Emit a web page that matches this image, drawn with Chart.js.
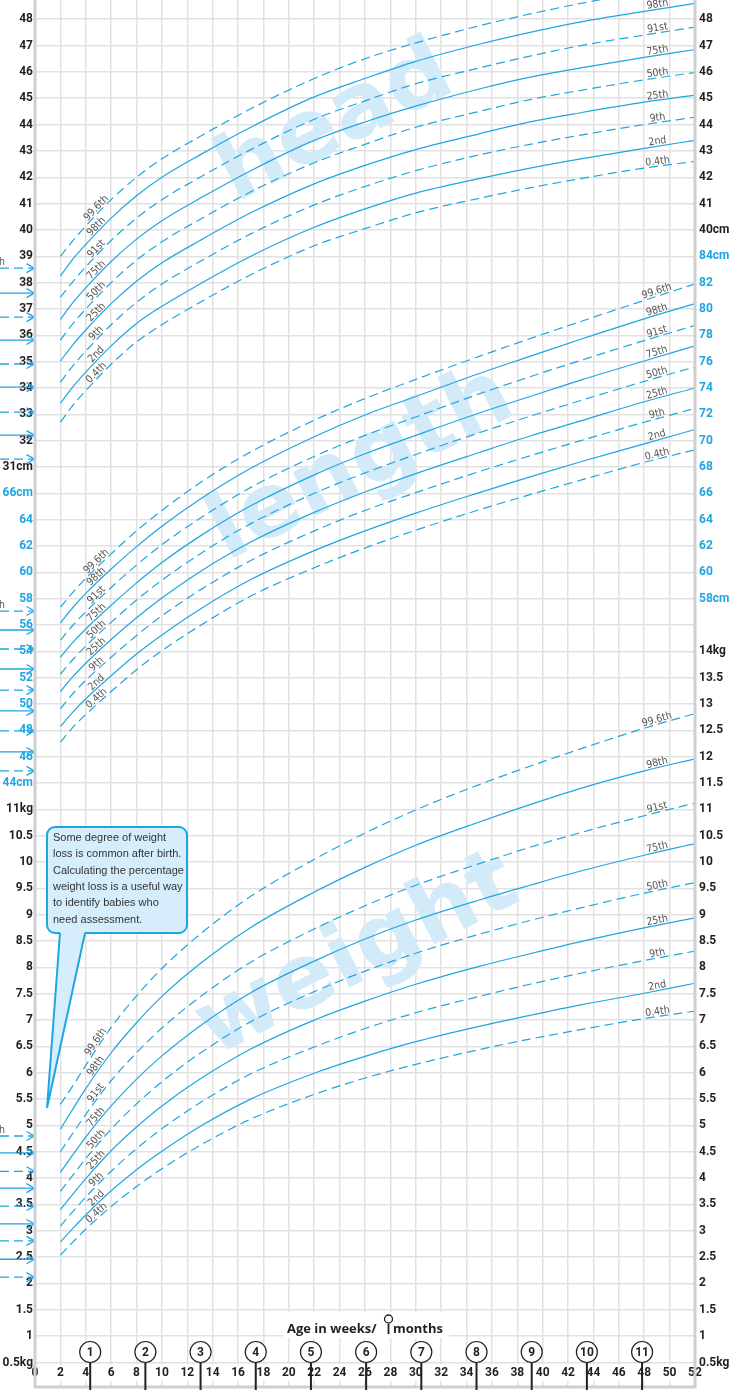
<!DOCTYPE html>
<html>
<head>
<meta charset="utf-8">
<script src="https://cdn.jsdelivr.net/npm/chart.js@4.4.1/dist/chart.umd.min.js"></script>
<style>
  html, body { margin: 0; padding: 0; background: #fff; }
</style>
</head>
<body>
<canvas id="growth-chart" width="731" height="1393"></canvas>
<script>
// ---- data (UK-WHO style 0-1 year chart, boys) ----
const weeks = [2, 3, 4, 6, 8, 10, 13, 17, 22, 26, 30, 35, 39, 43, 48, 52];
const centileNames = ['99.6th', '98th', '91st', '75th', '50th', '25th', '9th', '2nd', '0.4th'];

// head circumference, cm (one row per centile, top to bottom)
const headCm = [
  [39.0, 39.6, 40.15, 41.15, 42.0, 42.7, 43.55, 44.6, 45.75, 46.5, 47.1, 47.75, 48.2, 48.6, 49.05, 49.35],
  [38.25, 38.9, 39.45, 40.45, 41.3, 42.0, 42.85, 43.9, 45.05, 45.75, 46.4, 47.05, 47.5, 47.9, 48.3, 48.6],
  [37.45, 38.05, 38.6, 39.6, 40.45, 41.15, 42.0, 43.05, 44.2, 44.9, 45.55, 46.15, 46.6, 47.0, 47.4, 47.7],
  [36.6, 37.25, 37.8, 38.8, 39.65, 40.35, 41.2, 42.25, 43.4, 44.1, 44.7, 45.35, 45.8, 46.15, 46.55, 46.85],
  [35.82, 36.45, 37.0, 38.0, 38.85, 39.55, 40.4, 41.45, 42.55, 43.25, 43.9, 44.5, 44.95, 45.3, 45.7, 45.98],
  [35.02, 35.65, 36.2, 37.2, 38.05, 38.75, 39.6, 40.65, 41.75, 42.45, 43.05, 43.65, 44.1, 44.45, 44.85, 45.12],
  [34.22, 34.85, 35.4, 36.4, 37.25, 37.95, 38.8, 39.85, 40.95, 41.65, 42.25, 42.85, 43.25, 43.6, 44.0, 44.28],
  [33.42, 34.05, 34.6, 35.6, 36.45, 37.1, 37.95, 39.0, 40.1, 40.8, 41.4, 41.95, 42.35, 42.7, 43.1, 43.4],
  [32.7, 33.35, 33.9, 34.9, 35.75, 36.4, 37.25, 38.3, 39.4, 40.05, 40.65, 41.2, 41.6, 41.95, 42.35, 42.6]
];

// length, cm
const lengthCm = [
  [57.35, 58.5, 59.55, 61.4, 63.15, 64.7, 66.8, 69.15, 71.55, 73.2, 74.65, 76.4, 77.75, 79.05, 80.65, 81.9],
  [56.15, 57.35, 58.4, 60.25, 61.95, 63.5, 65.55, 67.9, 70.3, 71.95, 73.35, 75.1, 76.4, 77.7, 79.25, 80.4],
  [54.85, 56.0, 57.0, 58.85, 60.55, 62.1, 64.1, 66.45, 68.8, 70.4, 71.8, 73.55, 74.85, 76.1, 77.6, 78.75],
  [53.55, 54.7, 55.7, 57.5, 59.2, 60.75, 62.75, 65.05, 67.4, 69.0, 70.4, 72.1, 73.35, 74.6, 76.05, 77.2],
  [52.28, 53.4, 54.4, 56.2, 57.9, 59.4, 61.4, 63.7, 66.0, 67.55, 68.95, 70.6, 71.85, 73.05, 74.5, 75.6],
  [50.95, 52.1, 53.1, 54.9, 56.55, 58.05, 60.05, 62.3, 64.55, 66.1, 67.5, 69.1, 70.35, 71.5, 72.95, 74.0],
  [49.65, 50.8, 51.8, 53.55, 55.2, 56.7, 58.65, 60.9, 63.15, 64.7, 66.05, 67.65, 68.85, 70.0, 71.4, 72.45],
  [48.3, 49.4, 50.4, 52.15, 53.8, 55.25, 57.2, 59.45, 61.65, 63.15, 64.5, 66.05, 67.25, 68.4, 69.75, 70.85],
  [47.1, 48.25, 49.2, 50.95, 52.6, 54.05, 55.95, 58.2, 60.35, 61.85, 63.2, 64.75, 65.9, 67.0, 68.35, 69.3]
];

// weight, kg
const weightKg = [
  [5.40, 5.76, 6.14, 6.86, 7.46, 7.98, 8.63, 9.35, 10.05, 10.55, 10.99, 11.47, 11.82, 12.15, 12.54, 12.82],
  [4.93, 5.32, 5.70, 6.38, 6.95, 7.45, 8.07, 8.76, 9.43, 9.90, 10.32, 10.76, 11.09, 11.40, 11.73, 11.96],
  [4.50, 4.86, 5.21, 5.85, 6.38, 6.85, 7.44, 8.10, 8.73, 9.17, 9.56, 9.97, 10.28, 10.56, 10.88, 11.12],
  [4.11, 4.45, 4.78, 5.37, 5.88, 6.32, 6.89, 7.52, 8.12, 8.54, 8.90, 9.28, 9.56, 9.83, 10.13, 10.35],
  [3.75, 4.06, 4.37, 4.93, 5.41, 5.83, 6.37, 6.97, 7.54, 7.93, 8.27, 8.63, 8.89, 9.13, 9.41, 9.61],
  [3.40, 3.70, 3.99, 4.52, 4.97, 5.37, 5.88, 6.45, 7.00, 7.36, 7.68, 8.02, 8.26, 8.49, 8.75, 8.94],
  [3.09, 3.37, 3.64, 4.13, 4.56, 4.94, 5.43, 5.98, 6.49, 6.84, 7.14, 7.45, 7.68, 7.89, 8.13, 8.31],
  [2.79, 3.05, 3.30, 3.76, 4.16, 4.51, 4.98, 5.50, 5.99, 6.31, 6.59, 6.88, 7.09, 7.29, 7.51, 7.70],
  [2.54, 2.79, 3.03, 3.46, 3.84, 4.18, 4.62, 5.12, 5.59, 5.90, 6.16, 6.44, 6.64, 6.82, 7.03, 7.17]
];

// birth centiles shown as arrows on the left edge
const birthHead = [38.55, 37.6, 36.69, 35.82, 34.91, 34.03, 33.08, 32.21, 31.3];
const birthLength = [57.06, 55.62, 54.18, 52.66, 51.06, 49.48, 47.96, 46.36, 44.92];
const birthWeight = [4.80, 4.48, 4.13, 3.81, 3.47, 3.13, 2.81, 2.46, 2.12];

// tick labels
const weekTicks = [0, 2, 4, 6, 8, 10, 12, 14, 16, 18, 20, 22, 24, 26, 28, 30, 32, 34, 36, 38, 40, 42, 44, 46, 48, 50, 52];
const monthMarks = [1, 2, 3, 4, 5, 6, 7, 8, 9, 10, 11];
const headTicksLeft = ['31cm', '32', '33', '34', '35', '36', '37', '38', '39', '40', '41', '42', '43', '44', '45', '46', '47', '48'];
const lengthTicksLeft = ['44cm', '46', '48', '50', '52', '54', '56', '58', '60', '62', '64', '66cm'];
const weightTicksLeft = ['0.5kg', '1', '1.5', '2', '2.5', '3', '3.5', '4', '4.5', '5', '5.5', '6', '6.5', '7', '7.5', '8', '8.5', '9', '9.5', '10', '10.5', '11kg'];
const headTicksRight = ['40cm', '41', '42', '43', '44', '45', '46', '47', '48'];
const lengthTicksRight = ['58cm', '60', '62', '64', '66', '68', '70', '72', '74', '76', '78', '80', '82', '84cm'];
const weightTicksRight = ['0.5kg', '1', '1.5', '2', '2.5', '3', '3.5', '4', '4.5', '5', '5.5', '6', '6.5', '7', '7.5', '8', '8.5', '9', '9.5', '10', '10.5', '11', '11.5', '12', '12.5', '13', '13.5', '14kg'];

const calloutLines = ['Some degree of weight', 'loss is common after birth.', 'Calculating the percentage', 'weight loss is a useful way', 'to identify babies who', 'need assessment.'];

// ---- the three measures share one grid: one row = 1cm head, 2cm length, 0.5kg weight ----
function headRow(v) { return v + 3; }
function lengthRow(v) { return v / 2; }
function weightRow(v) { return v * 2 - 1; }

const BLUE = '#1fa6e0';
const INK = '#231f20';
const GRID = '#e1e1e1';
const TICKFONT = 'Roboto, "Liberation Sans", sans-serif';
const SMALLFONT = '"DejaVu Sans Condensed", Roboto, sans-serif';

const rowMin = 0, rowMax = 51.73;
const gridRows = [];
for (let r = 0; r <= 51; r++) gridRows.push(r);

function buildLabelMap(list) {
  const map = {};
  list.forEach(([labels, toRow, group]) => {
    labels.forEach(t => { map[Math.round(toRow(parseFloat(t)))] = { text: t, group: group }; });
  });
  return map;
}
const leftMap = buildLabelMap([[headTicksLeft, headRow, 'head'], [lengthTicksLeft, lengthRow, 'length'], [weightTicksLeft, weightRow, 'weight']]);
const rightMap = buildLabelMap([[headTicksRight, headRow, 'head'], [lengthTicksRight, lengthRow, 'length'], [weightTicksRight, weightRow, 'weight']]);

const datasets = [];
[[headCm, headRow, 'head'], [lengthCm, lengthRow, 'length'], [weightKg, weightRow, 'weight']].forEach(([rows, toRow, name]) => {
  rows.forEach((vals, ci) => {
    datasets.push({
      label: name + ' ' + centileNames[ci],
      centile: centileNames[ci],
      yAxisID: 'yL',
      data: weeks.map((w, i) => ({ x: w, y: toRow(vals[i]) })),
      borderColor: BLUE,
      borderWidth: 1.2,
      borderDash: ci % 2 === 0 ? [9, 5] : [],
      pointRadius: 0,
      cubicInterpolationMode: 'monotone',
      fill: false
    });
  });
});

function pointAt(meta, px) {
  const pts = meta.data;
  for (let i = 1; i < pts.length; i++) {
    if (pts[i].x >= px) {
      const a = pts[i - 1], b = pts[i];
      const t = (px - a.x) / (b.x - a.x);
      return { x: px, y: a.y + t * (b.y - a.y), angle: Math.atan2(b.y - a.y, b.x - a.x) };
    }
  }
  return null;
}

const decorations = {
  id: 'decorations',
  beforeDatasetsDraw(chart) {
    const { ctx, chartArea } = chart;
    ctx.save();
    ctx.beginPath();
    ctx.rect(chartArea.left, chartArea.top, chartArea.width, chartArea.height);
    ctx.clip();
    ctx.fillStyle = '#d3ebf9';
    ctx.font = 'bold 90px "DejaVu Sans", sans-serif';
    ctx.textAlign = 'center';
    ctx.textBaseline = 'middle';
    [['head', 336, 125], ['length', 362, 466], ['weight', 358, 957]].forEach(([word, x, y]) => {
      ctx.save();
      ctx.translate(x, y);
      ctx.rotate(-27 * Math.PI / 180);
      ctx.fillText(word, 0, 0);
      ctx.restore();
    });
    ctx.restore();
  },
  afterDatasetsDraw(chart) {
    const { ctx, chartArea } = chart;
    const xs = chart.scales.x, ys = chart.scales.yL;
    const b = chartArea.bottom;
    ctx.save();

    // centile names along the curves
    ctx.fillStyle = '#555';
    ctx.font = '10.5px ' + SMALLFONT;
    ctx.textAlign = 'center';
    ctx.textBaseline = 'alphabetic';
    chart.data.datasets.forEach((ds, i) => {
      const meta = chart.getDatasetMeta(i);
      [5.1, 49.1].forEach(w => {
        const p = pointAt(meta, xs.getPixelForValue(w));
        if (!p) return;
        ctx.save();
        ctx.translate(p.x, p.y);
        ctx.rotate(p.angle);
        ctx.fillText(ds.centile, 0, -2);
        ctx.restore();
      });
    });

    // birth arrows at the left edge
    ctx.strokeStyle = BLUE;
    ctx.lineWidth = 1.3;
    [[birthHead, headRow], [birthLength, lengthRow], [birthWeight, weightRow]].forEach(([vals, toRow]) => {
      vals.forEach((v, i) => {
        const y = ys.getPixelForValue(toRow(v));
        ctx.setLineDash(i % 2 === 0 ? [9, 5] : []);
        ctx.beginPath(); ctx.moveTo(0, y); ctx.lineTo(34, y); ctx.stroke();
        ctx.setLineDash([]);
        ctx.beginPath(); ctx.moveTo(26.5, y - 4.5); ctx.lineTo(34.5, y); ctx.lineTo(26.5, y + 4.5); ctx.stroke();
      });
      const y0 = ys.getPixelForValue(toRow(vals[0]));
      ctx.fillStyle = '#555';
      ctx.font = '10.5px ' + SMALLFONT;
      ctx.textAlign = 'right';
      ctx.fillText('99.6th', 5, y0 - 3);
    });

    // chart borders
    ctx.strokeStyle = '#cfcfcf';
    ctx.lineWidth = 3;
    ctx.beginPath();
    ctx.moveTo(chartArea.left, 0); ctx.lineTo(chartArea.left, b + 24.5);
    ctx.lineTo(chartArea.right, b + 24.5); ctx.lineTo(chartArea.right, 0);
    ctx.stroke();

    // month markers
    monthMarks.forEach(m => {
      const x = xs.getPixelForValue(m * 52.1786 / 12);
      ctx.strokeStyle = INK;
      ctx.lineWidth = 2;
      ctx.beginPath(); ctx.moveTo(x, b); ctx.lineTo(x, b + 27.5); ctx.stroke();
      ctx.beginPath(); ctx.arc(x, b - 10.5, 10.5, 0, Math.PI * 2);
      ctx.fillStyle = '#fff'; ctx.fill();
      ctx.lineWidth = 1.2; ctx.stroke();
      ctx.fillStyle = INK;
      ctx.font = 'bold 12px ' + TICKFONT;
      ctx.textAlign = 'center';
      ctx.textBaseline = 'middle';
      ctx.fillText(String(m), x, b - 10);
    });

    // axis title
    ctx.fillStyle = '#fff';
    ctx.fillRect(283, b - 50.5, 166, 26);
    ctx.fillStyle = INK;
    ctx.font = 'bold 13px "Open Sans", sans-serif';
    ctx.textAlign = 'left';
    ctx.textBaseline = 'alphabetic';
    ctx.fillText('Age in weeks/', 287, b - 29.5);
    ctx.fillText('months', 393, b - 29.5);
    ctx.strokeStyle = INK;
    ctx.lineWidth = 1.3;
    ctx.beginPath(); ctx.arc(388.5, b - 43.5, 4, 0, Math.PI * 2); ctx.fillStyle = '#fff'; ctx.fill(); ctx.stroke();
    ctx.lineWidth = 1.8;
    ctx.beginPath(); ctx.moveTo(388.5, b - 38.5); ctx.lineTo(388.5, b - 28.5); ctx.stroke();

    // callout
    const bx = 47, by = 827, bw = 140, bh = 106, r = 8;
    ctx.fillStyle = '#d6eefb';
    ctx.strokeStyle = BLUE;
    ctx.lineWidth = 2;
    ctx.beginPath();
    ctx.roundRect(bx, by, bw, bh, r);
    ctx.fill(); ctx.stroke();
    ctx.beginPath();
    ctx.moveTo(60, by + bh - 1); ctx.lineTo(47, 1108); ctx.lineTo(85, by + bh - 1);
    ctx.closePath();
    ctx.fill();
    ctx.beginPath();
    ctx.moveTo(60, by + bh); ctx.lineTo(47, 1108); ctx.lineTo(85, by + bh);
    ctx.stroke();
    ctx.fillStyle = '#d6eefb';
    ctx.fillRect(61.5, by + bh - 2, 22, 4);
    ctx.fillStyle = '#333';
    ctx.font = '11px "Liberation Sans", Arial, sans-serif';
    ctx.textAlign = 'left';
    ctx.textBaseline = 'middle';
    calloutLines.forEach((t, i) => ctx.fillText(t, 53, 838 + i * 16.3, 132));

    ctx.restore();
  }
};

Chart.defaults.font.family = TICKFONT;

new Chart(document.getElementById('growth-chart'), {
  type: 'line',
  data: { datasets: datasets },
  options: {
    responsive: false,
    animation: false,
    events: [],
    layout: { padding: 0, autoPadding: false },
    plugins: { legend: { display: false }, tooltip: { enabled: false } },
    scales: {
      x: {
        type: 'linear',
        position: 'bottom',
        min: 0,
        max: 52,
        afterBuildTicks: s => { s.ticks = weekTicks.map(v => ({ value: v })); },
        afterFit: s => { s.height = 30.5; s.paddingLeft = 0; s.paddingRight = 0; },
        grid: { color: GRID, lineWidth: 1.5, drawTicks: true, tickLength: 24 },
        border: { display: false },
        ticks: {
          autoSkip: false,
          maxRotation: 0,
          padding: -21,
          color: INK,
          font: { size: 12, weight: 'bold' },
          showLabelBackdrop: true,
          backdropColor: '#fff',
          backdropPadding: { x: 1, y: 1 }
        }
      },
      yL: {
        type: 'linear',
        position: 'left',
        min: rowMin,
        max: rowMax,
        afterBuildTicks: s => { s.ticks = gridRows.map(v => ({ value: v })); },
        afterFit: s => { s.width = 35; s.paddingTop = 0; s.paddingBottom = 0; },
        grid: { color: GRID, lineWidth: 1.5, drawTicks: false },
        border: { display: false },
        ticks: {
          autoSkip: false,
          padding: 2,
          font: { size: 12, weight: 'bold' },
          color: c => (leftMap[Math.round(c.tick.value)] || {}).group === 'length' ? BLUE : INK,
          callback: v => (leftMap[Math.round(v)] || { text: '' }).text
        }
      },
      yR: {
        type: 'linear',
        position: 'right',
        min: rowMin,
        max: rowMax,
        afterBuildTicks: s => { s.ticks = gridRows.map(v => ({ value: v })); },
        afterFit: s => { s.width = 36; s.paddingTop = 0; s.paddingBottom = 0; },
        grid: { display: false, drawTicks: false },
        border: { display: false },
        ticks: {
          autoSkip: false,
          padding: 4,
          font: { size: 12, weight: 'bold' },
          color: c => (rightMap[Math.round(c.tick.value)] || {}).group === 'length' ? BLUE : INK,
          callback: v => (rightMap[Math.round(v)] || { text: '' }).text
        }
      }
    }
  },
  plugins: [decorations]
});
</script>
</body>
</html>
